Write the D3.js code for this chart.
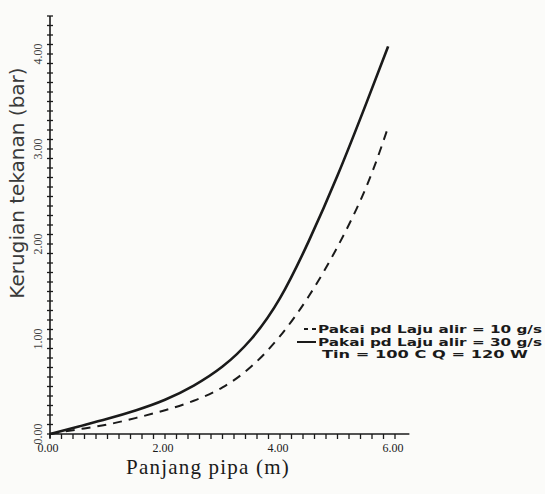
<!DOCTYPE html>
<html>
<head>
<meta charset="utf-8">
<script src="https://cdn.jsdelivr.net/npm/d3@7"></script>
<style>
  body { margin: 0; background: #fbfbf9; }
  svg { display: block; }
</style>
</head>
<body>
<script>
// data (panjang pipa in m, kerugian tekanan in bar)
const panjang = [0, 0.5, 1, 1.5, 2, 2.5, 3, 3.5, 4, 4.5, 5, 5.5, 5.88];
const rugiSolid = [0, 0.08, 0.16, 0.25, 0.36, 0.51, 0.71, 1.0, 1.43, 2.03, 2.72, 3.48, 4.08];
const rugiDash = [0, 0.05, 0.1, 0.17, 0.25, 0.35, 0.49, 0.71, 1.03, 1.45, 1.97, 2.6, 3.23];
const xTicks = [0, 2, 4, 6];
const yTicks = [0, 1, 2, 3, 4];
const legendLabels = [
  'Pakai pd Laju alir = 10 g/s',
  'Pakai pd Laju alir = 30 g/s',
  'Tin = 100 C  Q = 120 W'
];

const width = 545;
const height = 494;

const svg = d3.select('body')
  .append('svg')
  .attr('width', width)
  .attr('height', height);

// scales
const x = d3.scaleLinear().domain([0, 6]).range([50, 395]);
const y = d3.scaleLinear().domain([0, 4]).range([434, 54]);

const ink = '#1a1a1a';

// axes lines
svg.append('line')
  .attr('x1', x(0)).attr('x2', x(6.25))
  .attr('y1', y(0)).attr('y2', y(0))
  .attr('stroke', ink).attr('stroke-width', 1.6);
svg.append('line')
  .attr('x1', x(0)).attr('x2', x(0))
  .attr('y1', y(0) + 4).attr('y2', y(4.4))
  .attr('stroke', ink).attr('stroke-width', 1.6);

// minor ticks x (every 0.2 m, pointing down)
svg.selectAll('.xt')
  .data(d3.range(0, 6.01, 0.2))
  .enter()
  .append('line')
  .attr('x1', d => x(d)).attr('x2', d => x(d))
  .attr('y1', y(0)).attr('y2', y(0) + 5)
  .attr('stroke', ink).attr('stroke-width', 1.3);

// minor ticks y (every 0.1 bar, crossing the axis)
svg.selectAll('.yt')
  .data(d3.range(0, 4.41, 0.1))
  .enter()
  .append('line')
  .attr('x1', x(0) - 3).attr('x2', x(0) + 3)
  .attr('y1', d => y(d)).attr('y2', d => y(d))
  .attr('stroke', ink).attr('stroke-width', 1.3);

// tick labels
svg.selectAll('.xl')
  .data(xTicks)
  .enter()
  .append('text')
  .attr('x', d => x(d) - 2)
  .attr('y', y(0) + 18)
  .attr('text-anchor', 'middle')
  .attr('font-family', 'Liberation Serif')
  .attr('font-size', 12)
  .attr('fill', ink)
  .text(d => d.toFixed(2));

svg.selectAll('.yl')
  .data(yTicks)
  .enter()
  .append('text')
  .attr('transform', d => `translate(${x(0) - 8},${y(d)}) rotate(-90)`)
  .attr('text-anchor', 'middle')
  .attr('font-family', 'Liberation Serif')
  .attr('font-size', 12)
  .attr('fill', '#444')
  .text(d => d.toFixed(2));

// axis titles
svg.append('text')
  .attr('x', 208)
  .attr('y', 474)
  .attr('text-anchor', 'middle')
  .attr('font-family', 'Liberation Serif')
  .attr('font-size', 21)
  .attr('letter-spacing', 1.2)
  .attr('fill', ink)
  .text('Panjang pipa (m)');

svg.append('text')
  .attr('transform', 'translate(24,183) rotate(-90)')
  .attr('text-anchor', 'middle')
  .attr('font-family', 'DejaVu Sans')
  .attr('font-size', 20)
  .attr('fill', '#3a3a3a')
  .text('Kerugian tekanan (bar)');

// curves
const line = d3.line()
  .x(d => x(d[0]))
  .y(d => y(d[1]))
  .curve(d3.curveNatural);

svg.append('path')
  .datum(d3.zip(panjang, rugiDash))
  .attr('d', line)
  .attr('fill', 'none')
  .attr('stroke', ink)
  .attr('stroke-width', 2)
  .attr('stroke-dasharray', '9,7');

svg.append('path')
  .datum(d3.zip(panjang, rugiSolid))
  .attr('d', line)
  .attr('fill', 'none')
  .attr('stroke', ink)
  .attr('stroke-width', 2.6);

// legend
const lg = svg.append('g').attr('font-family', 'DejaVu Sans').attr('font-size', 10).attr('fill', ink);
lg.append('line').attr('x1', 304).attr('x2', 316).attr('y1', 329).attr('y2', 329)
  .attr('stroke', ink).attr('stroke-width', 2).attr('stroke-dasharray', '4,4');
lg.append('line').attr('x1', 297).attr('x2', 316).attr('y1', 342).attr('y2', 342)
  .attr('stroke', ink).attr('stroke-width', 2);
lg.selectAll('text')
  .data(legendLabels)
  .enter()
  .append('text')
  .attr('x', (d, i) => i === 2 ? 322 : 318)
  .attr('y', (d, i) => 333 + i * 12.5)
  .attr('font-weight', 'bold')
  .attr('textLength', (d, i) => i === 2 ? 206 : 224)
  .attr('lengthAdjust', 'spacingAndGlyphs')
  .text(d => d);
</script>
</body>
</html>
